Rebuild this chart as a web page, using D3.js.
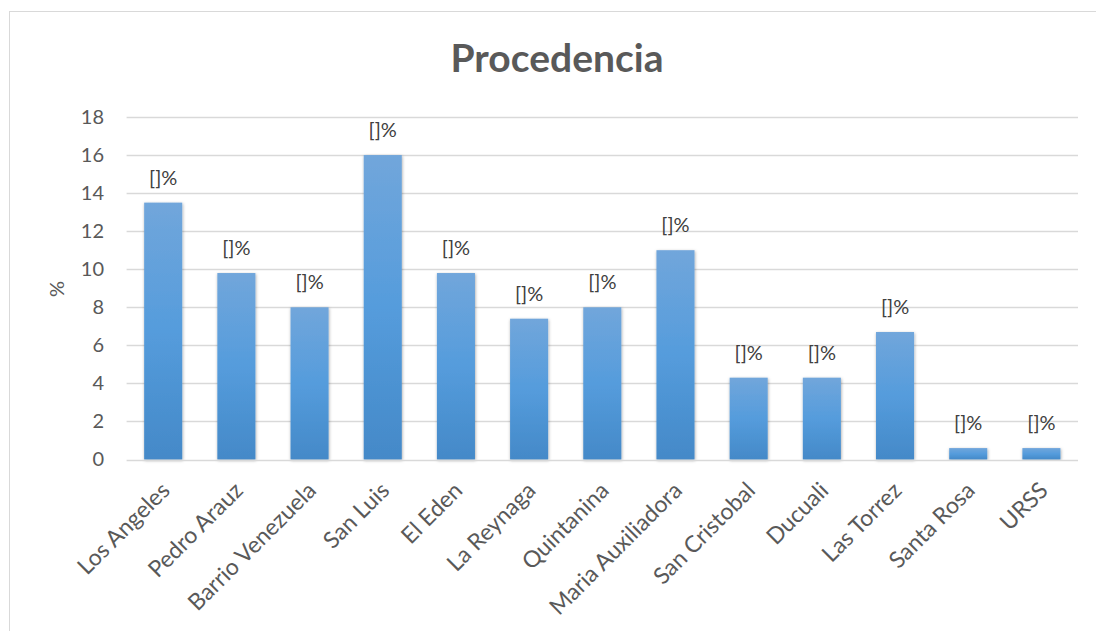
<!DOCTYPE html>
<meta charset="utf-8">
<style>
  body { margin: 0; background: #fff; }
  text { font-family: Lato, 'Open Sans', sans-serif; fill: #595959; }
</style>
<script src="https://d3js.org/d3.v7.min.js"></script>
<body>
<div id="chart"></div>
<script>

// data (n = 163)
var barrios = ["Los Angeles", "Pedro Arauz", "Barrio Venezuela", "San Luis", "El Eden", "La Reynaga",
               "Quintanina", "Maria Auxiliadora", "San Cristobal", "Ducuali", "Las Torrez", "Santa Rosa", "URSS"]
var porcentaje = [13.5, 9.8, 8.0, 16.0, 9.8, 7.4, 8.0, 11.0, 4.3, 4.3, 6.7, 0.6, 0.6]
var yTicks = [0, 2, 4, 6, 8, 10, 12, 14, 16, 18]

var width = 1096,
    height = 631

var svg = d3.select("#chart").append("svg")
    .attr("width", width)
    .attr("height", height)

// chart frame
svg.append("rect")
    .attr("x", 9.5).attr("y", 11.5)
    .attr("width", 1100).attr("height", 640)
    .attr("fill", "white")
    .attr("stroke", "#d9d9d9")

var defs = svg.append("defs")
var grad = defs.append("linearGradient")
    .attr("id", "barGrad")
    .attr("x1", 0).attr("y1", 0).attr("x2", 0).attr("y2", 1)
grad.append("stop").attr("offset", "0%").attr("stop-color", "#71a6db")
grad.append("stop").attr("offset", "50%").attr("stop-color", "#559cdc")
grad.append("stop").attr("offset", "100%").attr("stop-color", "#4489c8")

var shadow = defs.append("filter").attr("id", "shadow")
    .attr("x", "-30%").attr("y", "-10%").attr("width", "160%").attr("height", "120%")
shadow.append("feDropShadow")
    .attr("dx", 0.5).attr("dy", 1)
    .attr("stdDeviation", 1.8)
    .attr("flood-color", "#000")
    .attr("flood-opacity", 0.35)

var x = d3.scaleBand()
    .domain(barrios)
    .range([126.6, 1078])
    .paddingInner(0.48)
    .paddingOuter(0.24)

var y = d3.scaleLinear()
    .domain([0, 18])
    .range([459.5, 117])

// gridlines
svg.append("g")
  .selectAll("line")
  .data(yTicks.slice(1))
  .enter()
  .append("line")
    .attr("x1", 126.6).attr("x2", 1078)
    .attr("y1", function(d){ return Math.round(y(d)) + 0.5 })
    .attr("y2", function(d){ return Math.round(y(d)) + 0.5 })
    .attr("stroke", "#d9d9d9")
    .attr("stroke-width", 1.3)

// y axis labels
var yAxis = d3.axisLeft(y).tickValues(yTicks).tickSize(0).tickPadding(0)
svg.append("g")
    .attr("transform", "translate(104,0)")
    .call(yAxis)
    .call(function(g){ g.select(".domain").remove() })
    .selectAll("text")
    .style("font-size", "20px")
    .style("fill", "#595959")
    .style("font-family", "Lato, 'Open Sans', sans-serif")

// bars
svg.append("g")
  .selectAll("rect")
  .data(porcentaje)
  .enter()
  .append("rect")
    .attr("x", function(d, i){ return x(barrios[i]) })
    .attr("y", function(d){ return y(d) })
    .attr("width", x.bandwidth())
    .attr("height", function(d){ return y(0) - y(d) })
    .attr("fill", "url(#barGrad)")
    .attr("filter", "url(#shadow)")

// x axis line
svg.append("line")
    .attr("x1", 126.6).attr("x2", 1078)
    .attr("y1", 460.5).attr("y2", 460.5)
    .attr("stroke", "#d9d9d9")
    .attr("stroke-width", 1.5)

// data labels
svg.append("g")
  .selectAll("text")
  .data(porcentaje)
  .enter()
  .append("text")
    .attr("x", function(d, i){ return x(barrios[i]) + x.bandwidth() / 2 })
    .attr("y", function(d){ return y(d) - 18 })
    .attr("text-anchor", "middle")
    .style("font-size", "20px")
    .style("fill", "#404040")
    .text("[]%")

// category labels
svg.append("g")
  .selectAll("text")
  .data(barrios)
  .enter()
  .append("text")
    .attr("transform", function(d){
      return "translate(" + (x(d) + x.bandwidth() / 2 + 8) + ",492) rotate(-45)"
    })
    .attr("text-anchor", "end")
    .style("font-size", "23px")
    .text(function(d){ return d })

// axis title
svg.append("text")
    .attr("transform", "translate(64,289) rotate(-90)")
    .attr("text-anchor", "middle")
    .style("font-size", "20px")
    .text("%")

// title
svg.append("text")
    .attr("x", 557)
    .attr("y", 72)
    .attr("text-anchor", "middle")
    .style("font-size", "39px")
    .style("font-weight", "bold")
    .text("Procedencia")

</script>
</body>
